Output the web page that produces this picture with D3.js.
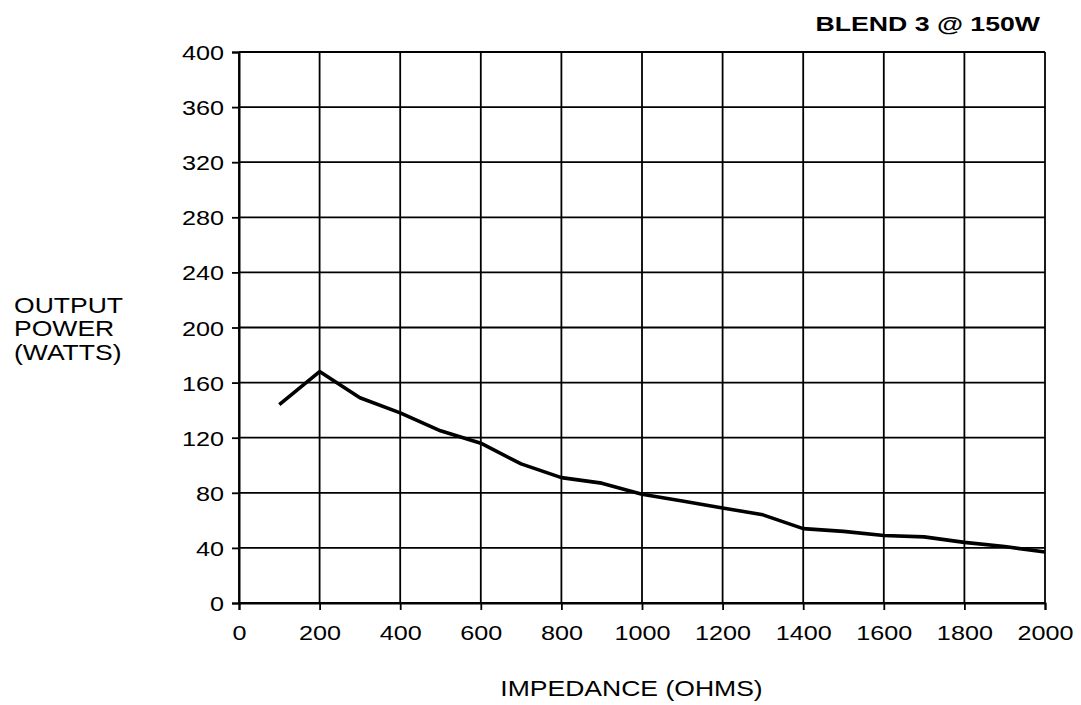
<!DOCTYPE html>
<html>
<head>
<meta charset="utf-8">
<script src="https://cdn.jsdelivr.net/npm/d3@7"></script>
<style>
  html, body { margin: 0; padding: 0; background: #fff; }
  svg text { font-family: "Liberation Sans", Arial, sans-serif; fill: #000; }
</style>
</head>
<body>
<svg id="chart" width="1081" height="705"></svg>
<script>
const impedance = [100, 200, 300, 400, 500, 600, 700, 800, 900, 1000, 1100, 1200, 1300, 1400, 1500, 1600, 1700, 1800, 1900, 2000];
const power     = [144, 168, 149, 138, 125, 116, 101, 91, 87, 79, 74, 69, 64, 54, 52, 49, 48, 44, 41, 37];
const xTicks = [0, 200, 400, 600, 800, 1000, 1200, 1400, 1600, 1800, 2000];
const yTicks = [0, 40, 80, 120, 160, 200, 240, 280, 320, 360, 400];
const title = "BLEND 3 @ 150W";
const yLabel = ["OUTPUT", "POWER", "(WATTS)"];
const xLabel = "IMPEDANCE (OHMS)";

(function () {
const svg = d3.select("#chart");
const pl = 239, pr = 1045, pt = 52, pb = 603;
const tickSx = 1.2, labSx = 1.18, titleSx = 1.27;

const x = d3.scaleLinear().domain([0, 2000]).range([pl, pr]);
const y = d3.scaleLinear().domain([0, 400]).range([pb, pt]);

// grid
const g = svg.append("g");
g.selectAll("line.vg").data(xTicks).join("line")
  .attr("x1", d => x(d)).attr("x2", d => x(d))
  .attr("y1", pt).attr("y2", pb)
  .attr("stroke", "#000").attr("stroke-width", 1.8);
g.selectAll("line.hg").data(yTicks).join("line")
  .attr("x1", pl).attr("x2", pr)
  .attr("y1", d => y(d)).attr("y2", d => y(d))
  .attr("stroke", "#000").attr("stroke-width", 1.8);

// axes
const yAxis = svg.append("g").attr("transform", `translate(${pl},0)`)
  .call(d3.axisLeft(y).tickValues(yTicks).tickSize(7).tickPadding(4).tickFormat(d3.format("d")));
const xAxis = svg.append("g").attr("transform", `translate(0,${pb})`)
  .call(d3.axisBottom(x).tickValues(xTicks).tickSize(7).tickPadding(15).tickFormat(d3.format("d")));
[yAxis, xAxis].forEach(a => {
  a.select(".domain").attr("stroke", "#000").attr("stroke-width", 2);
  a.selectAll(".tick line").attr("stroke", "#000").attr("stroke-width", 1.8);
  a.selectAll(".tick text").attr("font-size", 21)
    .attr("font-family", "'Liberation Sans', Arial, sans-serif").attr("fill", "#000")
    .attr("transform", `scale(${tickSx},1)`);
});
yAxis.selectAll(".tick text").attr("x", -15 / tickSx).attr("dy", "0.36em");

// data line
svg.append("path")
  .datum(impedance.map((d, i) => [d, power[i]]))
  .attr("fill", "none").attr("stroke", "#000").attr("stroke-width", 3.6)
  .attr("stroke-linejoin", "round")
  .attr("d", d3.line().x(d => x(d[0])).y(d => y(d[1])));

// title
svg.append("text").attr("transform", `translate(1040,30.5) scale(${titleSx},1)`)
  .attr("text-anchor", "end")
  .attr("font-size", 21).attr("font-weight", "bold").text(title);

// y label
svg.selectAll("text.ylab").data(yLabel).join("text")
  .attr("class", "ylab")
  .attr("transform", (d, i) => `translate(14,${313 + i * 23.3}) scale(${labSx},1)`)
  .attr("font-size", 22.5).text(d => d);

// x label
svg.append("text").attr("transform", `translate(631.5,696) scale(${labSx},1)`)
  .attr("text-anchor", "middle")
  .attr("font-size", 22.5).text(xLabel);
})();
</script>
</body>
</html>
